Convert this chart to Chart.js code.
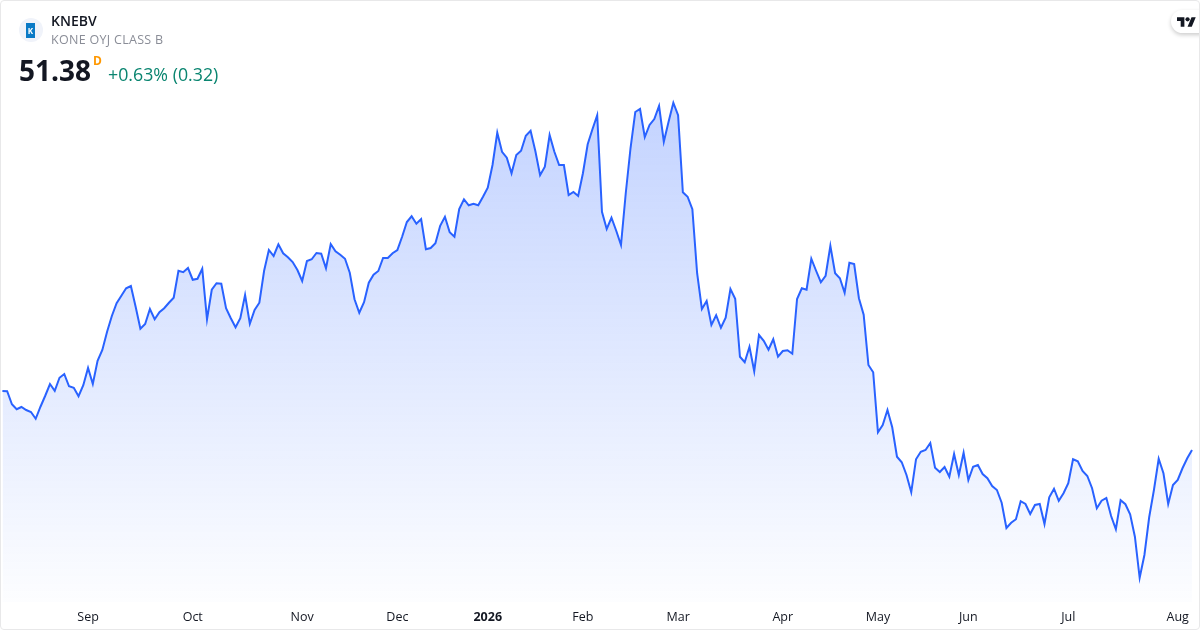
<!DOCTYPE html>
<html>
<head>
<meta charset="utf-8">
<title>KNEBV</title>
<script src="https://cdn.jsdelivr.net/npm/chart.js@4"></script>
<style>
    html, body { margin: 0; padding: 0; background: #fff; }
    #card { position: relative; width: 1200px; height: 630px; overflow: hidden; font-family: "Open Sans", sans-serif; }
    #frame { position: absolute; left: 0; top: 0; width: 1198px; height: 628px; border: 1px solid #e8e8e9; border-radius: 4px; pointer-events: none; }
    #grafico { position: absolute; left: 0; top: 0; }
    .txt { position: absolute; white-space: nowrap; line-height: 1; }
    #logoRound { position: absolute; left: 19px; top: 18px; width: 24px; height: 24px; border-radius: 50%; background: #f0f3fa; }
    #logoBox { position: absolute; left: 26px; top: 23px; width: 9px; height: 15px; background: #0a7ac6; color: #fff; font: bold 8px/15px "Open Sans", sans-serif; text-align: center; }
    #tvPill { position: absolute; left: 1171px; top: 10px; width: 40px; height: 23px; border-radius: 12px; background: #fff; box-shadow: 0 2px 4px rgba(0,0,0,0.2); }
    #tvLogo { position: absolute; left: 1177px; top: 15px; width: 19px; height: 15px; }
</style>
</head>
<body>
<div id="card">
    <canvas id="grafico" width="1200" height="630"></canvas>
    <div id="logoRound"></div>
    <div id="logoBox">K</div>
    <div class="txt" style="left:51px;top:14px;font-size:14px;font-weight:600;color:#131722">KNEBV</div>
    <div class="txt" style="left:51px;top:34px;font-size:12.5px;color:#8a8d97;letter-spacing:.3px">KONE OYJ CLASS B</div>
    <div class="txt" style="left:19px;top:56px;font-size:28px;font-weight:700;color:#131722">51.38</div>
    <div class="txt" style="left:93px;top:55px;font-size:12px;font-weight:700;color:#ff9800">D</div>
    <div class="txt" style="left:108px;top:66px;font-size:17.8px;color:#0a8570">+0.63% (0.32)</div>
    <div id="tvPill"></div>
    <svg id="tvLogo" viewBox="0 0 36 28"><path fill="#131722" d="M14 22H7V11H0V4h14v18zM28 22h-8l7.5-18h8L28 22z"/><circle fill="#131722" cx="20" cy="8" r="4"/></svg>
    <div id="frame"></div>
</div>
<script>
// precios de cierre, uno por sesion
const closes = [
    53.74, 53.73, 53.21, 53.01, 53.10, 52.98, 52.90, 52.63, 53.11, 53.55,
    54.02, 53.75, 54.27, 54.42, 53.93, 53.87, 53.53, 53.97, 54.66, 54.02,
    54.95, 55.38, 56.11, 56.74, 57.25, 57.55, 57.85, 57.94, 57.11, 56.23,
    56.42, 57.02, 56.61, 56.89, 57.05, 57.27, 57.47, 58.55, 58.49, 58.66,
    58.19, 58.23, 58.63, 56.61, 57.79, 58.05, 58.03, 57.05, 56.65, 56.29,
    56.65, 57.58, 56.43, 56.98, 57.27, 58.55, 59.38, 59.14, 59.61, 59.25,
    59.09, 58.90, 58.58, 58.14, 58.94, 59.01, 59.26, 59.23, 58.65, 59.62,
    59.33, 59.19, 59.03, 58.47, 57.41, 56.87, 57.29, 58.07, 58.39, 58.54,
    59.06, 59.06, 59.25, 59.38, 59.91, 60.50, 60.73, 60.43, 60.62, 59.41,
    59.46, 59.65, 60.35, 60.71, 60.09, 59.91, 61.02, 61.41, 61.17, 61.23,
    61.17, 61.51, 61.87, 62.78, 64.07, 63.31, 63.07, 62.45, 63.18, 63.35,
    63.95, 64.15, 63.34, 62.37, 62.71, 63.98, 63.31, 62.78, 62.78, 61.58,
    61.70, 61.54, 62.45, 63.61, 64.21, 64.77, 60.91, 60.22, 60.67, 60.15,
    59.58, 61.65, 63.45, 64.90, 65.02, 63.90, 64.38, 64.62, 65.14, 63.71,
    64.51, 65.27, 64.77, 61.69, 61.51, 61.01, 58.45, 57.02, 57.34, 56.38,
    56.77, 56.27, 56.67, 57.82, 57.43, 55.11, 54.89, 55.51, 54.53, 55.98,
    55.75, 55.39, 55.81, 55.11, 55.34, 55.37, 55.23, 57.42, 57.85, 57.79,
    59.03, 58.55, 58.09, 58.35, 59.55, 58.45, 58.25, 57.67, 58.87, 58.82,
    57.45, 56.79, 54.78, 54.49, 52.09, 52.38, 52.98, 52.29, 51.11, 50.89,
    50.38, 49.69, 51.01, 51.31, 51.38, 51.66, 50.67, 50.50, 50.70, 50.31,
    51.22, 50.38, 51.27, 50.18, 50.71, 50.78, 50.42, 50.25, 49.94, 49.78,
    49.27, 48.26, 48.47, 48.61, 49.33, 49.22, 48.82, 49.18, 49.22, 48.42,
    49.49, 49.83, 49.35, 49.65, 50.05, 51.01, 50.93, 50.54, 50.34, 49.85,
    49.05, 49.35, 49.46, 48.74, 48.21, 49.37, 49.21, 48.81, 47.91, 46.27,
    47.18, 48.69, 49.78, 51.03, 50.45, 49.22, 49.98, 50.18, 50.65, 51.05,
    51.38
];

// etiquetas del eje x y la sesion donde cae cada una
const tickNames = ['Sep', 'Oct', 'Nov', 'Dec', '2026', 'Feb', 'Mar', 'Apr', 'May', 'Jun', 'Jul', 'Aug'];
const tickSessions = [18, 40, 63, 83, 102, 122, 142, 164, 184, 203, 224, 247];

const sessionLabels = closes.map(function (_, i) {
    const pos = tickSessions.indexOf(i);
    return pos >= 0 ? tickNames[pos] : '';
});

function fillGradient(context) {
    const chart = context.chart;
    if (!chart.chartArea) return 'rgba(41,98,255,0.15)';
    const top = chart.scales.y.getPixelForValue(Math.max.apply(null, closes));
    const grad = chart.ctx.createLinearGradient(0, top, 0, chart.chartArea.bottom);
    grad.addColorStop(0, 'rgba(41,98,255,0.28)');
    grad.addColorStop(1, 'rgba(41,98,255,0.01)');
    return grad;
}

new Chart(document.getElementById('grafico'), {
    type: 'line',
    data: {
        labels: sessionLabels,
        datasets: [{
            data: closes,
            borderColor: '#2962ff',
            borderWidth: 2,
            pointRadius: 0,
            tension: 0,
            fill: 'start',
            backgroundColor: fillGradient
        }]
    },
    options: {
        responsive: false,
        animation: false,
        layout: { padding: { left: 2.4, right: 8, top: 0, bottom: 0 } },
        plugins: {
            legend: { display: false },
            tooltip: { enabled: false }
        },
        scales: {
            x: {
                offset: false,
                grid: { display: false, drawTicks: false },
                border: { display: false },
                afterFit: function (axis) {
                    axis.height = 28;
                    // the first label's margin would push the line away from the left edge
                    axis.paddingLeft = 0;
                    axis.paddingRight = 0;
                },
                ticks: {
                    autoSkip: false,
                    maxRotation: 0,
                    minRotation: 0,
                    padding: 8,
                    color: '#131722',
                    font: function (ctx) {
                        const isYear = ctx.tick && ctx.tick.label === '2026';
                        return { family: '"Open Sans", sans-serif', size: 12.5, weight: isYear ? 'bold' : 'normal' };
                    }
                }
            },
            y: {
                display: false,
                min: 45.30,
                max: 69.38
            }
        }
    }
});
</script>
</body>
</html>
